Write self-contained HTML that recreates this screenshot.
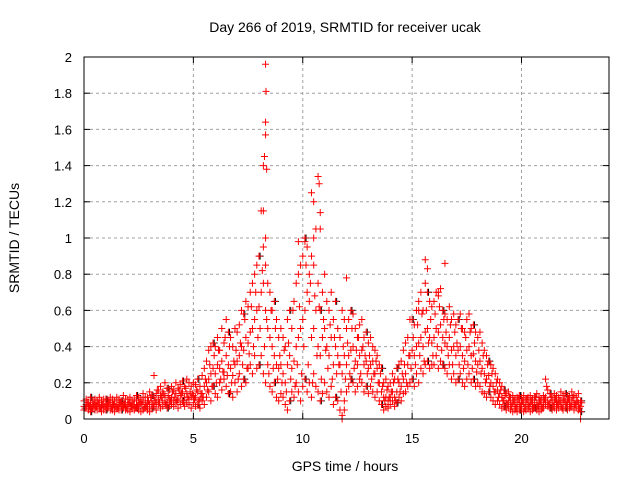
<!DOCTYPE html>
<html><head><meta charset="utf-8"><style>
body{margin:0;background:#fff;}
svg{display:block;font-family:"Liberation Sans",sans-serif;}
</style></head><body>
<svg id="chart" width="640" height="480">
<text x="345" y="32" font-size="14" text-anchor="middle">Day 266 of 2019, SRMTID for receiver ucak</text>
<text transform="translate(19,238) rotate(-90)" font-size="14" text-anchor="middle">SRMTID / TECUs</text>
<text x="345" y="471" font-size="14" text-anchor="middle">GPS time / hours</text>
<g id="grid"></g>
<g id="ticks"></g>
<g id="marks"></g>
<rect x="84" y="57" width="525" height="362" fill="none" stroke="#000" stroke-width="1"/>
</svg>
<script>
const xTicks=[0,5,10,15,20];
const yTicks=[0,0.2,0.4,0.6,0.8,1,1.2,1.4,1.6,1.8,2];
const yTickLabels=["0","0.2","0.4","0.6","0.8","1","1.2","1.4","1.6","1.8","2"];
const timeStep=0.1;
const seriesLow=[.05,.06,.05,.04,.06,.05,.05,.06,.04,.05,.05,.06,.05,.05,.04,.06,.05,.05,.06,.05,.05,.04,.06,.05,.06,.05,.04,.05,.06,.05,.04,.06,.07,.05,.08,.06,.07,.09,.06,.07,.08,.07,.09,.06,.08,.10,.07,.09,.08,.06,.09,.07,.08,.06,.10,.08,.12,.15,.10,.18,.14,.12,.20,.16,.22,.18,.14,.15,.12,.20,.15,.25,.18,.22,.20,.28,.30,.25,.35,.28,.30,.35,.25,.20,.30,.18,.15,.20,.12,.10,.14,.12,.08,.05,.10,.15,.12,.20,.15,.10,.18,.22,.15,.20,.12,.25,.18,.15,.10,.14,.20,.15,.12,.18,.08,.12,.10,.05,.02,.10,.15,.18,.22,.20,.15,.18,.22,.20,.15,.18,.14,.18,.15,.12,.15,.10,.08,.05,.07,.06,.08,.10,.07,.09,.12,.10,.14,.15,.18,.20,.22,.18,.25,.20,.28,.25,.30,.32,.28,.30,.30,.35,.28,.32,.30,.28,.25,.30,.22,.25,.20,.22,.25,.20,.18,.22,.25,.20,.22,.18,.20,.18,.15,.14,.12,.15,.12,.10,.08,.10,.08,.06,.07,.05,.06,.05,.04,.05,.04,.05,.05,.04,.05,.06,.04,.05,.06,.05,.04,.05,.06,.08,.07,.06,.05,.06,.05,.06,.07,.05,.06,.05,.06,.07,.05,.06,.05,.04];
const seriesMid=[.07,.08,.07,.08,.07,.09,.07,.08,.07,.08,.08,.07,.09,.07,.08,.08,.07,.09,.08,.07,.08,.09,.07,.08,.10,.08,.09,.10,.08,.09,.08,.10,.12,.09,.11,.13,.10,.12,.09,.11,.12,.10,.14,.11,.13,.15,.12,.14,.11,.12,.13,.12,.15,.11,.14,.18,.20,.22,.25,.28,.25,.30,.28,.32,.26,.35,.30,.28,.24,.30,.32,.35,.40,.38,.45,.42,.48,.50,.55,.60,.62,.70,.75,.60,.50,.45,.40,.35,.30,.28,.30,.25,.20,.30,.35,.28,.32,.40,.45,.50,.55,.60,.70,.65,.45,.50,.60,.40,.35,.45,.50,.40,.35,.45,.30,.40,.35,.30,.25,.35,.30,.35,.38,.40,.32,.30,.35,.38,.30,.32,.28,.30,.32,.25,.28,.20,.15,.12,.12,.10,.12,.15,.12,.15,.20,.18,.22,.25,.30,.35,.38,.35,.40,.42,.45,.40,.48,.50,.45,.42,.45,.50,.48,.52,.45,.42,.40,.45,.38,.40,.35,.38,.40,.35,.32,.38,.40,.35,.36,.32,.30,.32,.28,.25,.22,.24,.20,.18,.15,.16,.14,.12,.10,.09,.10,.08,.09,.07,.08,.09,.08,.09,.07,.08,.09,.07,.08,.09,.08,.07,.09,.12,.10,.09,.08,.10,.09,.08,.10,.09,.10,.09,.08,.10,.09,.08,.09,.07];
const seriesHigh=[.10,.11,.09,.12,.10,.11,.10,.12,.10,.11,.11,.10,.12,.11,.10,.12,.11,.10,.13,.11,.11,.12,.10,.11,.13,.12,.11,.14,.12,.12,.15,.13,.24,.14,.16,.18,.15,.20,.17,.16,.18,.16,.20,.17,.19,.21,.18,.22,.20,.18,.20,.19,.22,.18,.24,.28,.32,.38,.40,.42,.40,.45,.38,.50,.42,.55,.48,.45,.40,.50,.48,.52,.60,.58,.65,.62,.70,.75,.80,.85,.90,1.15,.95,.85,.75,.70,.60,.65,.55,.45,.50,.45,.40,.55,.60,.50,.65,.75,.80,.85,.90,1.00,.95,.80,.90,.85,1.05,.75,.60,.70,.80,.65,.60,.70,.55,.65,.50,.45,.60,.55,.50,.55,.60,.58,.50,.45,.52,.55,.45,.48,.42,.45,.40,.38,.35,.30,.28,.20,.22,.18,.20,.25,.22,.28,.30,.32,.38,.42,.45,.55,.55,.52,.60,.65,.70,.60,.75,.70,.65,.62,.65,.70,.68,.72,.60,.58,.55,.62,.55,.58,.52,.55,.58,.50,.48,.55,.58,.50,.52,.48,.45,.48,.42,.38,.35,.32,.30,.28,.25,.22,.20,.18,.16,.14,.15,.12,.13,.11,.12,.13,.12,.13,.11,.12,.13,.11,.12,.14,.12,.11,.13,.22,.16,.14,.12,.14,.13,.12,.15,.13,.14,.13,.12,.15,.13,.12,.14,.10];
const seriesScatter=[.06,.09,.07,.06,.08,.07,.09,.06,.08,.07,.07,.09,.06,.08,.07,.06,.09,.07,.08,.06,.09,.07,.08,.06,.07,.09,.08,.06,.07,.10,.12,.08,.10,.16,.09,.12,.14,.08,.13,.10,.15,.12,.10,.16,.14,.09,.17,.12,.15,.14,.11,.16,.10,.14,.12,.22,.16,.30,.18,.35,.20,.38,.22,.26,.45,.24,.40,.20,.32,.38,.22,.42,.30,.55,.28,.36,.62,.40,.70,.45,.50,.82,.40,.55,.25,.60,.28,.50,.22,.35,.20,.38,.15,.42,.22,.60,.18,.30,.62,.25,.40,.85,.30,.75,.20,.68,.35,.62,.22,.55,.38,.28,.52,.22,.45,.25,.30,.15,.40,.22,.42,.25,.50,.28,.38,.45,.25,.40,.35,.25,.35,.22,.25,.32,.20,.25,.18,.10,.16,.12,.15,.20,.10,.22,.15,.25,.30,.20,.35,.28,.45,.30,.52,.35,.58,.32,.60,.42,.55,.35,.58,.40,.62,.38,.55,.48,.35,.52,.30,.48,.42,.30,.50,.28,.45,.30,.48,.28,.42,.26,.38,.25,.35,.20,.30,.18,.25,.15,.20,.12,.16,.10,.13,.08,.12,.07,.10,.06,.11,.07,.10,.06,.11,.07,.10,.06,.12,.07,.10,.06,.11,.18,.08,.12,.07,.11,.08,.10,.06,.11,.08,.11,.07,.12,.08,.10,.06,.09];
const spikeTimes=[8.2,8.25,8.3,8.3,8.32,8.3,8.2,8.35,8.3,10.4,10.5,10.7,10.75,10.8,10.8,10.1,9.8,10.5,12,15.6,15.7,16.5,15.3,16.2,11.8,22.7,11.9];
const spikeValues=[1.4,1.45,1.57,1.64,1.81,1.96,1.15,1.38,1.0,1.25,1.2,1.34,1.3,1.14,1.05,.98,.98,1.0,.78,.88,.83,.86,.6,.7,0,0,.05];

const X0=84,X1=609,Y0=419,Y1=57,XMAX=24,YMAX=2;
const xs=t=>X0+(X1-X0)*t/XMAX;
const ys=v=>Y0-(Y0-Y1)*v/YMAX;
const NS="http://www.w3.org/2000/svg";
const grid=document.getElementById('grid'),ticks=document.getElementById('ticks'),marks=document.getElementById('marks');
function mk(tag,attrs,parent){const e=document.createElementNS(NS,tag);for(const k in attrs)e.setAttribute(k,attrs[k]);parent.appendChild(e);return e;}
xTicks.forEach(t=>{
  const x=xs(t);
  if(t>0){const g=mk('line',{x1:x,x2:x,y1:Y0,y2:Y1,stroke:'#a0a0a0','stroke-dasharray':'3,3'},grid);
  
  }
  mk('line',{x1:x,x2:x,y1:Y0,y2:Y0-6,stroke:'#000'},ticks);
  mk('line',{x1:x,x2:x,y1:Y1,y2:Y1+6,stroke:'#000'},ticks);
  const l=mk('text',{x:x,y:443,'font-size':13,'text-anchor':'middle'},ticks);l.textContent=t;
  
  
});
yTicks.forEach((v,i)=>{
  const y=ys(v);
  if(v>0&&v<YMAX){const g=mk('line',{x1:X0,x2:X1,y1:y,y2:y,stroke:'#a0a0a0','stroke-dasharray':'3,3'},grid);
  
  }
  mk('line',{x1:X0,x2:X0+6,y1:y,y2:y,stroke:'#000'},ticks);
  mk('line',{x1:X1,x2:X1-6,y1:y,y2:y,stroke:'#000'},ticks);
  const l=mk('text',{x:72,y:y+5,'font-size':13,'text-anchor':'end'},ticks);l.textContent=yTickLabels[i];
  
  
});
function plus(t,v,color){
  const x=xs(t),y=ys(v);
  const p=mk('path',{d:`M${x-3.5},${y}H${x+3.5}M${x},${y-3.5}V${y+3.5}`,stroke:color,'stroke-width':1,fill:'none'},marks);
  
  
}
[seriesLow,seriesHigh].forEach(s=>s.forEach((v,i)=>{if(i%7===3)plus(i*timeStep+0.05,v,'#000');}));
[seriesLow,seriesMid,seriesHigh].forEach(s=>s.forEach((v,i)=>plus(i*timeStep,v,'#ff0000')));
seriesScatter.forEach((v,i)=>plus(i*timeStep+0.05,v,'#ff0000'));
spikeTimes.forEach((t,i)=>plus(t,spikeValues[i],'#ff0000'));
</script>
</body></html>
